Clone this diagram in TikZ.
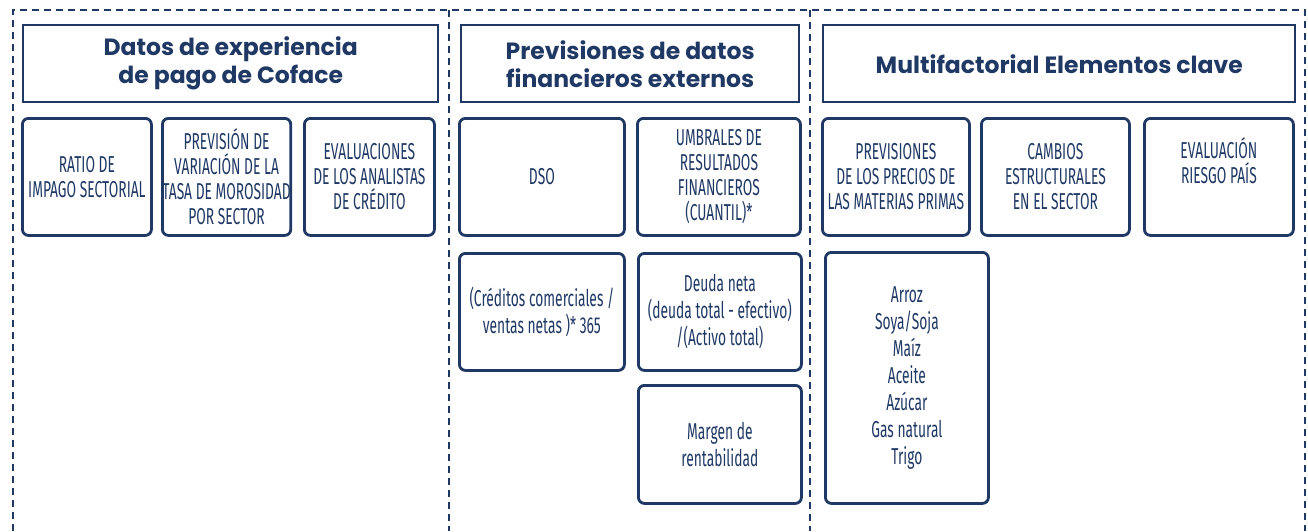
\documentclass[tikz,border=0pt]{standalone}
\usepackage{fontspec}
\usepackage{tikz}
\setsansfont{Fira Sans}
\newfontfamily\condfont[FakeStretch=0.6]{Fira Sans}
\newfontfamily\headfont{Poppins}
\definecolor{navy}{RGB}{31,56,100}

\begin{document}
\begin{tikzpicture}[x=1pt,y=1pt]
	\tikzstyle{every node}+=[inner sep=0pt, anchor=north west]
	\tikzstyle{panel}=[navy, line width=2.5pt, dash pattern=on 7pt off 5pt]
	\tikzstyle{headbox}=[draw=navy, line width=2.4pt, align=center, text=navy, font=\headfont\bfseries\fontsize{23.5}{28}\selectfont]
	\tikzstyle{itembox}=[draw=navy, line width=2.8pt, rounded corners=6pt, align=center, text=navy, font=\condfont\fontsize{23}{25}\selectfont]
	\tikzstyle{textbox}=[itembox, font=\condfont\fontsize{23}{27}\selectfont]
	\useasboundingbox (0,0) rectangle (1308,-531);
	% dashed panels
	\draw [panel] (13,-531) -- (13,-10) -- (1305,-10) -- (1305,-531);
	\draw [panel] (449,-10) -- (449,-531);
	\draw [panel] (810,-10) -- (810,-531);
	% Coface
	\node [headbox, minimum width=415pt, minimum height=77pt] (coface) at (22,-24) {Datos de experiencia\\de pago de Coface};
	\node [itembox, minimum width=129pt, minimum height=117pt] (ratio) at (21,-117) {RATIO DE\\IMPAGO SECTORIAL};
	\node [itembox, minimum width=128pt, minimum height=117pt] (morosidad) at (161,-117) {PREVISIÓN DE\\VARIACIÓN DE LA\\TASA DE MOROSIDAD\\POR SECTOR};
	\node [itembox, minimum width=130pt, minimum height=117pt] (analistas) at (303,-117) {EVALUACIONES\\DE LOS ANALISTAS\\DE CRÉDITO};
	% datos financieros
	\node [headbox, minimum width=338pt, minimum height=77pt] (financieros) at (460,-24) {Previsiones de datos\\financieros externos};
	\node [itembox, minimum width=165pt, minimum height=117pt] (dso) at (458,-117) {DSO};
	\node [itembox, minimum width=163pt, minimum height=117pt] (umbrales) at (636,-117) {UMBRALES DE\\RESULTADOS\\FINANCIEROS\\(CUANTIL)*};
	\node [textbox, minimum width=165pt, minimum height=117pt] (creditos) at (458,-252) {(Créditos comerciales /\\ventas netas )* 365};
	\node [textbox, minimum width=163pt, minimum height=117pt] (deuda) at (637,-252) {Deuda neta\\(deuda total - efectivo)\\/(Activo total)};
	\node [textbox, minimum width=163pt, minimum height=118pt] (margen) at (637,-384) {Margen de\\rentabilidad};
	% multifactorial
	\node [headbox, minimum width=472pt, minimum height=77pt] (multi) at (822,-24) {Multifactorial Elementos clave};
	\node [itembox, minimum width=147pt, minimum height=117pt] (precios) at (821,-117) {PREVISIONES\\DE LOS PRECIOS DE\\LAS MATERIAS PRIMAS};
	\node [itembox, minimum width=148pt, minimum height=117pt] (cambios) at (980,-117) {CAMBIOS\\ESTRUCTURALES\\EN EL SECTOR};
	\node [itembox, minimum width=149pt, minimum height=117pt] (pais) at (1143,-117) {EVALUACIÓN\\RIESGO PAÍS\\\strut};
	\node [textbox, minimum width=163pt, minimum height=251pt] (materias) at (824,-251) {Arroz\\Soya/Soja\\Maíz\\Aceite\\Azúcar\\Gas natural\\Trigo};
\end{tikzpicture}
\end{document}
